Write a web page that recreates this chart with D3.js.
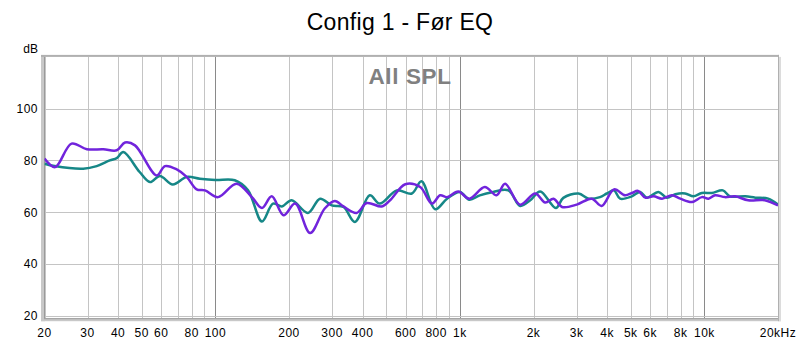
<!DOCTYPE html>
<html><head><meta charset="utf-8">
<script src="https://cdn.jsdelivr.net/npm/d3@7"></script>
<style>body{margin:0;background:#fff}svg{display:block}text{font-family:Arial,"Liberation Sans",sans-serif}</style>
</head><body>
<svg id="c" width="800" height="345"></svg>
<script>
const title = "Config 1 - Før EQ";
const subtitle = "All SPL";
const yTicks = [20, 40, 60, 80, 100];
const xGrid = [20,30,40,50,60,70,80,90,100,200,300,400,500,600,700,800,900,1000,2000,3000,4000,5000,6000,7000,8000,9000,10000,20000];
const xMajor = [100, 1000, 10000];
const xLabelVals = [20,30,40,50,60,80,100,200,300,400,600,800,1000,2000,3000,4000,5000,6000,8000,10000,20000];
const xLabelText = ["20","30","40","50","60","80","100","200","300","400","600","800","1k","2k","3k","4k","5k","6k","8k","10k","20kHz"];

const tealFreq = [20,22,28.8,32.7,37,39.5,42,49,54,59.3,66.9,76.3,86.4,100,120,136,155,172,187,205,239,268,299,334,372,428,470,552,636,696,792,886,1000,1093,1206,1368,1578,1764,1940,2130,2468,2648,3056,3368,3740,3990,4270,4520,5050,5460,5820,6490,7020,7600,8340,9020,9768,10720,11900,12720,14700,16160,18240,20000];
const tealDb = [78.7,77.8,76.8,77.8,80.0,80.9,83.2,75.5,71.6,74.0,70.7,73.6,72.9,72.4,72.3,68.4,56.4,63.3,62.2,64.6,59.7,65.2,62.6,62.0,56.2,66.5,63.3,68.4,67.2,71.9,61.1,65.2,67.8,64.8,66.5,67.8,68.4,62.4,64.6,68.0,61.6,65.5,67.2,65.2,65.8,67.2,68.4,65.2,66.1,67.8,65.6,67.8,65.6,66.9,67.2,66.1,67.4,67.4,68.4,66.1,66.1,65.6,65.2,62.9];

const purpleFreq = [20,22.1,25.8,29.8,34.8,39.5,42.7,46.9,57.5,62.2,69.5,76.3,83.8,90.7,102.6,122,141,155,170,190,212,244,280,308,334,378,416,479,518,598,688,768,830,886,984,1093,1264,1413,1530,1764,2032,2234,2416,2616,3006,3460,3800,4270,4740,5050,5354,5734,6200,6712,7372,7974,8896,9768,10392,11060,12140,13340,15100,17660,20000];
const purpleDb = [80.7,77.4,86.5,84.3,84.3,83.9,86.9,85.8,74.2,77.8,76.5,73.6,68.8,68.4,65.8,71.0,65.8,61.6,66.1,58.8,63.3,51.9,61.4,64.3,62.2,59.7,63.5,62.2,64.6,70.8,69.7,63.3,66.5,65.8,68.0,65.2,69.7,66.5,71.0,62.9,67.2,63.7,65.2,62.0,62.9,65.2,62.4,68.8,66.5,67.4,68.2,65.6,66.1,65.2,66.5,65.2,63.9,65.8,65.2,66.5,65.8,66.1,64.6,64.6,62.6];

const svg = d3.select("#c");
const L = 44.5, R = 778, T = 56.9, B = 318.2;
const x = d3.scaleLog().domain([20, 20000]).range([L, R]);
const y = d3.scaleLinear().domain([19, 120]).range([B, T]);

svg.append("rect").attr("x", L).attr("y", T).attr("width", R - L).attr("height", B - T).attr("fill", "#fff");

const g = svg.append("g");
g.selectAll("line.v").data(xGrid).enter().append("line")
  .attr("x1", d => Math.round(x(d)) + 0.5).attr("x2", d => Math.round(x(d)) + 0.5)
  .attr("y1", T).attr("y2", B)
  .attr("stroke", d => xMajor.includes(d) ? "#8a8a8a" : "#c4c4c4").attr("stroke-width", 1);
g.selectAll("line.h").data(yTicks).enter().append("line")
  .attr("x1", L).attr("x2", R)
  .attr("y1", d => Math.round(y(d)) + 0.5).attr("y2", d => Math.round(y(d)) + 0.5)
  .attr("stroke", "#c4c4c4").attr("stroke-width", 1);

svg.append("rect").attr("x", 41).attr("y", T - 1).attr("width", 4).attr("height", B - T + 4).attr("fill", "#c8c8c8");
svg.append("rect").attr("x", 41).attr("y", B).attr("width", R - 41 + 3).attr("height", 3).attr("fill", "#c8c8c8");
svg.append("line").attr("x1", 44.5).attr("x2", 44.5).attr("y1", T).attr("y2", B).attr("stroke", "#9a9a9a");
svg.append("line").attr("x1", 44).attr("x2", R).attr("y1", B + 0.5).attr("y2", B + 0.5).attr("stroke", "#9a9a9a");
svg.append("rect").attr("x", 41).attr("y", T - 2).attr("width", R - 41 + 1).attr("height", 2).attr("fill", "#b0b0b0");
svg.append("rect").attr("x", R).attr("y", T - 2).attr("width", 1).attr("height", B - T + 5).attr("fill", "#b0b0b0");
svg.append("rect").attr("x", R + 1).attr("y", T).attr("width", 2).attr("height", B - T + 3).attr("fill", "#dcdcdc");

svg.append("text").attr("x", 410).attr("y", 83.5).attr("text-anchor", "middle")
  .attr("font-size", 22.5).attr("font-weight", "bold").attr("fill", "#808080").attr("letter-spacing", 0.6).text(subtitle);

const line = d3.line().x(d => x(d[0])).y(d => y(d[1])).curve(d3.curveCatmullRom.alpha(0.5));
svg.append("clipPath").attr("id", "pc").append("rect").attr("x", L).attr("y", T).attr("width", R - L).attr("height", B - T);
svg.append("path").datum(tealFreq.map((f, i) => [f, tealDb[i]]))
  .attr("d", line).attr("fill", "none").attr("stroke", "#168787").attr("stroke-width", 2.5).attr("clip-path", "url(#pc)");
svg.append("path").datum(purpleFreq.map((f, i) => [f, purpleDb[i]]))
  .attr("d", line).attr("fill", "none").attr("stroke", "#7124dc").attr("stroke-width", 2.5).attr("clip-path", "url(#pc)");

svg.append("text").attr("x", 400).attr("y", 30).attr("text-anchor", "middle").attr("font-size", 23).attr("letter-spacing", 0.3).attr("fill", "#000").text(title);
svg.append("text").attr("x", 38).attr("y", 52.5).attr("text-anchor", "end").attr("font-size", 12).attr("fill", "#000").text("dB");
svg.selectAll("text.yl").data(yTicks).enter().append("text")
  .attr("x", 38).attr("y", d => y(d) + 4.4).attr("text-anchor", "end").attr("font-size", 12).attr("letter-spacing", 0.5).attr("fill", "#000").text(d => d);
svg.selectAll("text.xl").data(xLabelVals).enter().append("text")
  .attr("x", d => x(d)).attr("y", 337).attr("text-anchor", "middle").attr("font-size", 12).attr("letter-spacing", 0.5).attr("fill", "#000")
  .text((d, i) => xLabelText[i]);
</script>
</body></html>
